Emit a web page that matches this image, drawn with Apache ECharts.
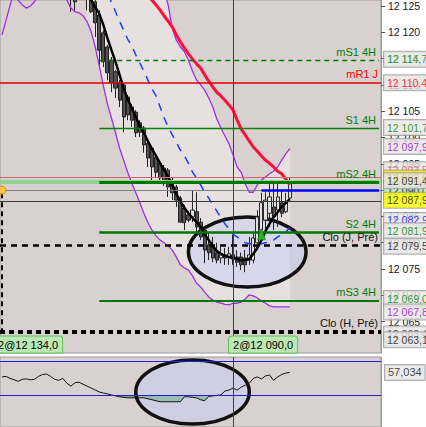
<!DOCTYPE html>
<html><head><meta charset="utf-8">
<script src="https://cdn.jsdelivr.net/npm/echarts@6/dist/echarts.min.js"></script>
<style>html,body{margin:0;padding:0;background:#fff;}#c{width:426px;height:427px;}</style>
</head><body><div id="c"></div>
<script>
// ---------- DATA ----------
const barCount = 94;                 // bar slots on the time axis
const candleStart = 17;
const candleOpen  = [12127.1,12126.7,12129.9,12129.0,12128.0,12126.5,12125.8,12123.3,12119.9,12117.2,12114.7,12112.5,12110.4,12110.0,12107.7,12105.8,12104.8,12102.8,12101.8,12098.9,12098.0,12096.3,12095.1,12094.2,12093.8,12091.9,12090.6,12088.5,12086.6,12085.3,12084.9,12085.9,12083.9,12082.4,12079.6,12079.2,12078.1,12077.1,12077.7,12077.3,12077.7,12077.3,12077.3,12077.1,12076.7,12076.7,12080.0,12082.4,12084.3,12085.6,12086.8,12086.2,12087.6,12085.9,12088.5];
const candleClose = [12126.5,12125.8,12128.4,12127.7,12126.5,12123.9,12121.8,12116.6,12114.4,12112.3,12110.4,12109.4,12107.1,12103.9,12104.3,12103.3,12100.9,12101.0,12098.6,12096.1,12094.4,12093.4,12092.3,12091.5,12090.6,12089.5,12088.1,12083.9,12083.8,12084.3,12086.2,12083.0,12081.1,12078.6,12078.1,12077.1,12076.7,12077.7,12077.1,12077.9,12076.9,12076.3,12075.8,12075.8,12077.7,12080.9,12084.9,12087.6,12088.1,12088.7,12084.9,12088.7,12085.6,12087.6,12091.4];
const candleLow   = [12123.9,12123.9,12127.1,12126.7,12124.2,12123.7,12119.1,12113.4,12113.4,12110.9,12108.6,12107.5,12105.8,12101.0,12103.3,12102.0,12100.1,12100.1,12097.1,12094.4,12091.9,12092.5,12091.4,12090.8,12088.7,12088.1,12086.8,12083.8,12082.4,12083.9,12083.9,12082.0,12080.5,12076.1,12076.7,12076.3,12076.1,12076.1,12075.8,12075.8,12075.8,12075.4,12074.8,12074.4,12075.8,12076.1,12078.6,12081.1,12081.8,12083.0,12082.4,12083.0,12084.9,12085.6,12088.1];
const candleHigh  = [12128.0,12127.7,12130.9,12130.3,12129.0,12127.1,12126.1,12124.2,12120.4,12117.6,12115.3,12112.8,12110.9,12110.4,12108.1,12106.4,12105.2,12103.3,12102.2,12099.5,12098.4,12096.7,12095.7,12094.8,12094.2,12092.5,12091.0,12088.9,12087.2,12085.9,12090.0,12089.6,12084.7,12082.8,12081.8,12081.1,12080.0,12079.2,12079.0,12079.2,12081.5,12078.6,12078.1,12078.6,12081.1,12081.8,12086.2,12089.5,12089.6,12091.4,12091.9,12091.9,12090.0,12089.5,12092.5];

const blackMAStart = 21;
const blackMA = [12127.1,12126.1,12124.8,12123.5,12121.4,12118.9,12116.6,12114.4,12111.9,12109.4,12107.3,12105.6,12103.9,12102.2,12100.9,12099.3,12097.8,12096.5,12095.1,12093.8,12092.5,12091.0,12089.3,12087.9,12086.6,12085.6,12084.7,12083.9,12083.0,12081.6,12080.5,12079.4,12078.4,12077.9,12077.5,12077.3,12077.1,12076.9,12076.7,12076.7,12076.9,12077.9,12079.0,12080.5,12082.2,12083.6,12084.9,12085.8,12086.8,12087.55,12088.3];

const redMAStart = 35;
const redMA = [12128.0,12127.1,12126.1,12125.2,12124.2,12123.1,12122.1,12121.0,12119.5,12118.2,12117.0,12115.9,12114.9,12114.0,12113.2,12111.9,12110.7,12109.6,12108.6,12107.9,12107.1,12106.2,12105.2,12103.3,12101.6,12100.5,12099.3,12098.2,12097.4,12096.5,12095.7,12095.1,12094.4,12093.6,12093.1,12092.1,12091.0];

const blueMAStart = 26;
const blueMA = [12127.1,12125.8,12123.9,12122.1,12120.4,12118.7,12117.4,12115.7,12114.2,12112.6,12110.9,12109.2,12107.9,12105.8,12103.7,12102.0,12100.5,12099.1,12097.6,12096.5,12095.1,12093.4,12092.3,12091.0,12089.6,12088.5,12087.2,12086.0,12084.7,12083.6,12082.6,12081.6,12081.1,12080.5,12080.0,12079.8,12079.8,12079.8,12079.8,12080.0,12080.1,12080.5,12081.1,12081.5,12082.0,12082.9];

const lowerBand = [12119.5,12122.3,12125.2,12127.7,12126.1,12125.2,12124.6,12125.0,12125.8,12127.1,12129.9,12131.8,12132.8,12131.8,12129.9,12128.0,12126.1,12124.6,12123.9,12123.7,12123.1,12122.0,12120.1,12117.2,12113.6,12109.8,12106.4,12103.7,12100.9,12098.0,12095.7,12093.4,12091.4,12089.5,12087.6,12085.6,12083.8,12082.4,12081.3,12080.5,12080.0,12079.4,12078.6,12077.3,12075.8,12075.2,12074.8,12073.7,12072.3,12071.6,12070.6,12069.7,12069.1,12068.7,12068.5,12068.3,12068.2,12068.5,12068.5,12068.7,12069.3,12070.1,12069.9,12069.5,12068.9,12068.5,12068.0,12067.8,12067.8,12067.8,12067.8,12067.8];
const upperBandStart = 21;
const upperBand = [12152.0,12151.2,12150.1,12149.3,12148.0,12147.2,12146.1,12145.0,12143.8,12142.9,12141.5,12140.2,12139.0,12137.4,12136.0,12134.3,12132.5,12130.8,12129.3,12127.7,12125.2,12120.8,12118.5,12117.2,12116.3,12114.7,12112.6,12110.9,12110.0,12109.0,12107.5,12105.8,12103.5,12101.8,12100.3,12098.8,12096.7,12094.4,12093.4,12091.2,12089.6,12089.6,12091.0,12091.9,12092.5,12093.1,12093.6,12094.4,12095.7,12096.9,12097.9];

const oscillator = [51.6,52.2,49.8,48.1,46.3,48.7,49.2,48.1,48.7,52.2,54.5,55.1,52.2,48.7,47.5,49.8,44.0,40.5,44.6,45.2,42.8,40.5,38.2,35.8,33.5,32.3,31.2,30.0,28.8,27.7,27.1,26.5,26.5,26.5,26.5,26.5,25.3,24.2,23.0,21.8,21.8,21.8,21.8,21.8,21.8,27.7,27.7,27.1,26.5,24.2,23.0,28.2,28.8,29.4,30.0,34.7,35.8,38.2,35.8,39.3,41.7,44.0,49.8,51.6,49.2,52.7,53.9,47.5,51.6,54.5,56.2,57.034];
const oscLevels = [70, 30];

const yTicks = [12065,12070,12075,12080,12085,12090,12095,12100,12105,12110,12115,12120,12125];

const levelNames  = ['mS1 4H','mR1 J','S1 4H','mS2 4H','S2 4H','Clo (J, Pré)','mS3 4H','Clo (H, Pré)'];
const levelValues = [12114.7,12110.4,12101.7,12091.5,12081.9,12079.5,12069.0,12063.1];
const levelFromBar = 24;

const positionLabels = ['2@12 134,0','2@12 090,0'];
const positionBars = [0, 57];
const positionPrice = 12090.0;
const cursorBar = 57;
const arrowBar = 64, arrowPrice = 12081.6;

const priceTags = [12114.7,12110.4,12101.7,12097.9,12093.5,12092.6,12090.0,12091.4,12087.9,12082.9,12081.9,12079.5,12069.0,12067.8,12063.4,12063.1];
const oscTag = 57.034;

// ---------- HELPERS ----------
const bars = []; for (let i = 0; i < barCount; i++) bars.push(String(i));
function place(arr, start){ const out = new Array(barCount).fill(null); arr.forEach((v,k)=>{ out[start+k] = v; }); return out; }
function fmtPrice(v, dec){
  const s = v.toFixed(dec).split('.');
  const ip = s[0];
  const g = ip.slice(0, ip.length-3) + ' ' + ip.slice(-3);
  return s[1] ? g + ',' + s[1] : g;
}
const FONT = '"Liberation Sans", Arial, sans-serif';

const candleData = new Array(barCount).fill('-');
candleOpen.forEach((o,k)=>{ candleData[candleStart+k] = [o, candleClose[k], candleLow[k], candleHigh[k]]; });

const lowerArr = place(lowerBand, 0);
const upperArr = place(upperBand, upperBandStart);
const bandBase = upperArr.map((u,i)=> u==null ? null : lowerArr[i]);
const bandDiff = upperArr.map((u,i)=> u==null ? null : +(u - lowerArr[i]).toFixed(2));

const oscArr = place(oscillator, 0);
const oscBase = oscArr.map(v => v==null ? null : Math.min(v, oscLevels[1]));
const oscDiff = oscArr.map(v => v==null ? null : +(oscLevels[1] - Math.min(v, oscLevels[1])).toFixed(2));

// level line styles
const GREEN = '#008000';
const levelStyle = {
  'mS1 4H': {color:GREEN, width:1.3, type:[5,4], text:'#008000', partial:true},
  'mR1 J': {color:'#e00000', width:1.5, type:'solid', text:'#ff0000', partial:false},
  'S1 4H': {color:GREEN, width:1.3, type:'solid', text:'#008000', partial:true},
  'mS2 4H': {color:'#007800', width:3, type:'solid', text:'#008000', partial:true},
  'S2 4H': {color:'#007800', width:2.5, type:'solid', text:'#008000', partial:true},
  'Clo (J, Pré)': {color:'#000', width:2.5, type:[6,5], text:'#111', partial:false},
  'mS3 4H': {color:'#007800', width:2, type:'solid', text:'#008000', partial:true},
  'Clo (H, Pré)': {color:'#000', width:4, type:[5,4], text:'#111', partial:false}
};
const labelFont = {fontSize:11, fontFamily:FONT};
const tagFont = {fontSize:10.5, fontFamily:FONT};
const levelLines = [
  {yAxis:12092.5, lineStyle:{color:'#cc6b6b', width:1, type:'solid'}, label:{show:false}},
  {yAxis:levelValues[3], lineStyle:{color:'#93d493', width:4, type:'solid'}, label:{show:false}},
  {yAxis:positionPrice, lineStyle:{color:'#808080', width:1, type:'solid'}, label:{show:false}},
  {yAxis:12087.9, lineStyle:{color:'#3a3a3a', width:1, type:'solid'}, label:{show:false}}
];
levelNames.forEach((n,k)=>{
  const st = levelStyle[n];
  const lab = Object.assign({show:true, position:'insideEndTop', formatter:n, color:st.text, distance:[3,3]}, labelFont);
  const ls = {color:st.color, width:st.width, type:st.type};
  if (st.partial) {
    levelLines.push([{coord:[levelFromBar, levelValues[k]], lineStyle:ls, label:lab}, {coord:[barCount-1, levelValues[k]]}]);
  } else {
    levelLines.push({yAxis:levelValues[k], lineStyle:ls, label:lab});
  }
});
levelLines.push([{coord:[arrowBar, positionPrice], lineStyle:{color:'#0000ff', width:2.5, type:'solid'}, label:{show:false}}, {coord:[barCount-1, positionPrice]}]);
levelLines.push({xAxis:cursorBar, lineStyle:{color:'#404040', width:1, type:'solid'}, label:{show:false}});
levelLines.push([{coord:[0, positionPrice-0.6], lineStyle:{color:'#000', width:2, type:[5,4]}, label:{show:false}}, {coord:[0, levelValues[7]]}]);

// right price tags (text colour, background, vertical nudge)
const tagStyle = [
  ['#008000','#e9e6e5',-1],['#ff0000','#e9e6e5',0],['#008000','#e9e6e5',-1],['#9a00cc','#e9e6e5',-2],
  ['#e05050','#e9e6e5',-2],['#111','#ffec00',1.5],['#111','#b8e8b0',1],['#111','#e9e6e5',-2],
  ['#111','#ffff00',-1],['#0000ff','#e9e6e5',-7],['#008000','#e9e6e5',-2],['#111','#e9e6e5',1],
  ['#008000','#e9e6e5',-2],['#9a00cc','#e9e6e5',5],['#111','#e9e6e5',4],['#111','#e9e6e5',8]
];
const tagData = priceTags.map((p,k)=>({
  value:[barCount-1, p],
  label:{formatter: fmtPrice(p,1), color:tagStyle[k][0], backgroundColor:tagStyle[k][1], offset:[0, tagStyle[k][2]]}
}));

const posBox = {backgroundColor:'#bce8b4', borderColor:'#5cc35c', borderWidth:1, borderRadius:[3,3,0,0], padding:[3,4,2,4], color:'#000'};
const bottomPrice = 12060.65;

const option = {
  animation:false,
  backgroundColor:'#ffffff',
  grid:[
    {left:0, top:0, width:381, height:353, show:true, backgroundColor:'#d9d1d0', borderColor:'#9a9a9a', borderWidth:1},
    {left:0, top:357, width:381, height:72, show:true, backgroundColor:'#d9d1d0', borderColor:'#9a9a9a', borderWidth:1}
  ],
  xAxis:[
    {type:'category', gridIndex:0, data:bars, boundaryGap:true, show:false},
    {type:'category', gridIndex:1, data:bars, boundaryGap:true, show:false}
  ],
  yAxis:[
    {type:'value', gridIndex:0, position:'right', min:12059.04, max:12126.14,
     axisLine:{show:true, lineStyle:{color:'#9a9a9a'}},
     axisTick:{show:true, length:4, customValues:yTicks, lineStyle:{color:'#555'}},
     axisLabel:Object.assign({customValues:yTicks, color:'#15152a', margin:7, formatter:v=>fmtPrice(v,0)}, tagFont),
     splitLine:{show:false}},
    {type:'value', gridIndex:1, position:'right', min:-8.49, max:75.48,
     axisLine:{show:true, lineStyle:{color:'#9a9a9a'}}, axisTick:{show:false}, axisLabel:{show:false}, splitLine:{show:false}}
  ],
  series:[
    {type:'line', name:'bandBase', data:bandBase, stack:'band', symbol:'none', lineStyle:{opacity:0}, z:1, silent:true},
    {type:'line', name:'bandFill', data:bandDiff, stack:'band', symbol:'none', lineStyle:{opacity:0}, areaStyle:{color:'#e6e1e0', opacity:1}, z:1, silent:true},
    {type:'candlestick', data:candleData, barWidth:3.6, z:3,
     itemStyle:{color:'#e0e0e0', color0:'#555052', borderColor:'#2b2b2b', borderColor0:'#222', borderWidth:1}},
    {type:'line', data:lowerArr, symbol:'none', lineStyle:{color:'#9b30e0', width:1.3}, z:4},
    {type:'line', data:place(upperBand.slice(19), upperBandStart+19), symbol:'none', lineStyle:{color:'#9b30e0', width:1.3}, z:4},
    {type:'line', data:place(blueMA, blueMAStart), symbol:'none', lineStyle:{color:'#1f3cff', width:1.5, type:[8,7]}, z:4},
    {type:'line', data:place(redMA, redMAStart), symbol:'none', lineStyle:{color:'#ff1038', width:3}, z:4},
    {type:'line', data:place(blackMA, blackMAStart), symbol:'none', lineStyle:{color:'#000', width:2.5}, z:4},
    {type:'line', data:bars.map(()=>null), symbol:'none', z:5, silent:true,
     markLine:{silent:true, symbol:['none','none'], animation:false, data:levelLines},
     markPoint:{silent:true, animation:false, data:[
       {coord:[arrowBar, arrowPrice], symbol:'triangle', symbolSize:[8,11], itemStyle:{color:'#2db52d', borderColor:'#127012', borderWidth:0.6}, label:{show:false}},
       {coord:[0, positionPrice], symbol:'circle', symbolSize:8, itemStyle:{color:'#ffc24a', borderColor:'#e08a00', borderWidth:1}, label:{show:false}},
       {coord:[positionBars[0], bottomPrice], symbol:'rect', symbolSize:0, label:Object.assign({show:true, position:'right', distance:0, offset:[-8,0], formatter:positionLabels[0]}, posBox, labelFont)},
       {coord:[positionBars[1], bottomPrice], symbol:'rect', symbolSize:0, label:Object.assign({show:true, position:'right', distance:0, offset:[-4,0], formatter:positionLabels[1]}, posBox, labelFont)}
     ]}},
    {type:'scatter', data:tagData, symbolSize:0, z:6, silent:true,
     label:Object.assign({show:true, position:'right', distance:5, borderColor:'#9a9a9a', borderWidth:1, padding:[2,14,1,3], lineHeight:12, overflow:'none'}, tagFont)},
    // oscillator panel
    {type:'line', xAxisIndex:1, yAxisIndex:1, data:oscBase, stack:'osc', symbol:'none', lineStyle:{opacity:0}, z:1, silent:true},
    {type:'line', xAxisIndex:1, yAxisIndex:1, data:oscDiff, stack:'osc', symbol:'none', lineStyle:{opacity:0}, areaStyle:{color:'#6fa978', opacity:1}, z:1, silent:true},
    {type:'line', xAxisIndex:1, yAxisIndex:1, data:oscArr, symbol:'none', lineStyle:{color:'#111', width:1}, z:4,
     markLine:{silent:true, symbol:['none','none'], animation:false, label:{show:false}, data:[
       {yAxis:oscLevels[0], lineStyle:{color:'#1f1fd6', width:1, type:'solid'}},
       {yAxis:oscLevels[1], lineStyle:{color:'#1f1fd6', width:1, type:'solid'}},
       {xAxis:cursorBar, lineStyle:{color:'#404040', width:1, type:'solid'}}
     ]}},
    {type:'scatter', xAxisIndex:1, yAxisIndex:1, data:[[barCount-1, oscTag]], symbolSize:0, z:6, silent:true,
     label:Object.assign({show:true, position:'right', distance:6, formatter:'', color:'#15152a', backgroundColor:'#e9e6e5', borderColor:'#9a9a9a', borderWidth:1, padding:[2,3,1,3], lineHeight:12}, labelFont)}
  ]
};
option.series[option.series.length-1].label.formatter = oscTag.toFixed(3).replace('.', ',');

const chart = echarts.init(document.getElementById('c'), null, {renderer:'svg'});
chart.setOption(option);

// highlight ellipses anchored on data coordinates
const ellipses = [
  {grid:0, fromBar:46, toBar:75, top:12084.9, bottom:12071.6},
  {grid:1, fromBar:33, toBar:61, top:72, bottom:-5}
];
const g = ellipses.map(e=>{
  const a = chart.convertToPixel({gridIndex:e.grid}, [e.fromBar, e.top]);
  const b = chart.convertToPixel({gridIndex:e.grid}, [e.toBar, e.bottom]);
  return {type:'ellipse', z:2, silent:true,
    shape:{cx:(a[0]+b[0])/2, cy:(a[1]+b[1])/2, rx:Math.abs(b[0]-a[0])/2, ry:Math.abs(b[1]-a[1])/2},
    style:{fill:'rgba(200,206,242,0.5)', stroke:'#111', lineWidth:3.5}};
});
chart.setOption({graphic:g});
</script>
</body></html>
